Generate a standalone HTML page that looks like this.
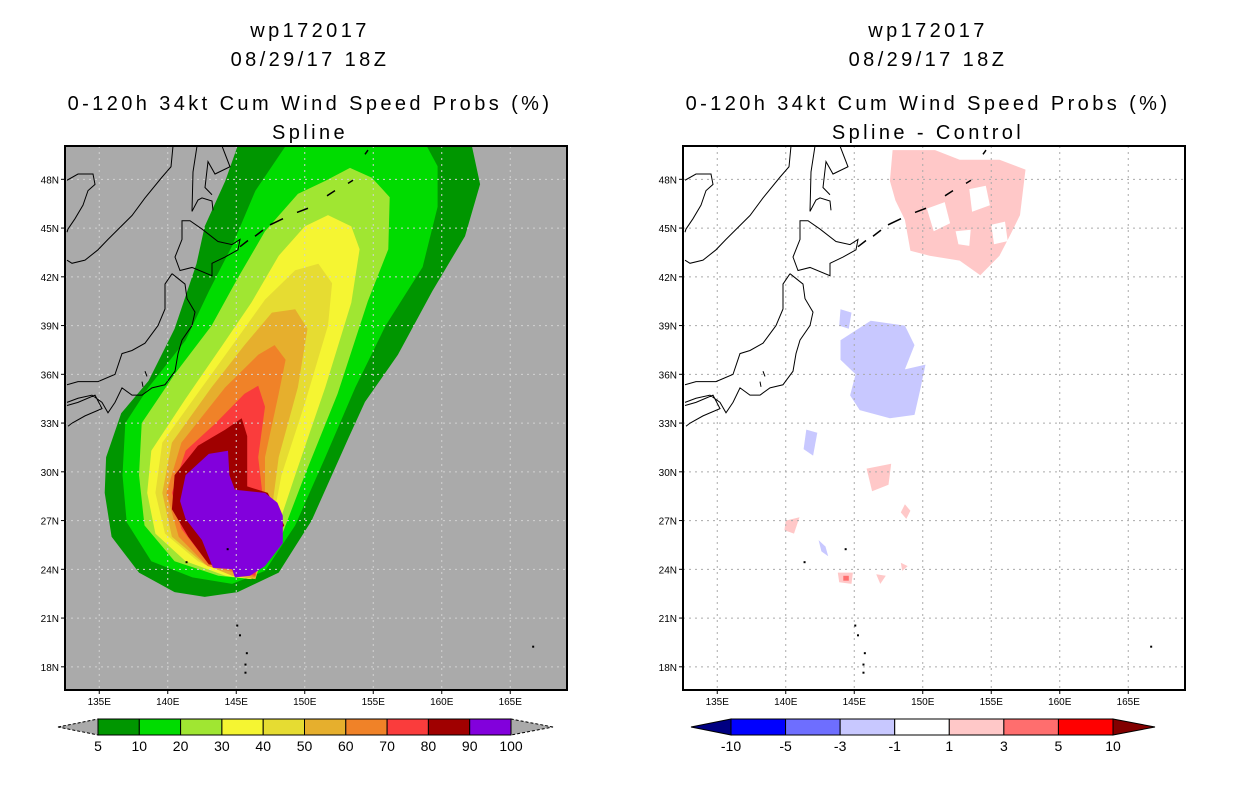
<!DOCTYPE html>
<html><head><meta charset="utf-8">
<style>
html,body{margin:0;padding:0;background:#fff;}
body{width:1236px;height:800px;overflow:hidden;font-family:"Liberation Sans",sans-serif;}
svg text{font-family:"Liberation Sans",sans-serif;}
</style></head>
<body>
<svg id="root" width="1236" height="800" viewBox="0 0 1236 800" xmlns="http://www.w3.org/2000/svg">
<defs>
<clipPath id="clipL"><rect x="65" y="146" width="502" height="544"/></clipPath>
<clipPath id="clipR"><rect x="683" y="146" width="502" height="544"/></clipPath>
</defs>
<g font-size="20" text-anchor="middle" letter-spacing="3.4">
<text x="310" y="37">wp172017</text>
<text x="310" y="66">08/29/17 18Z</text>
<text x="310" y="110">0-120h 34kt Cum Wind Speed Probs (%)</text>
<text x="310" y="139">Spline</text>
</g>
<g font-size="20" text-anchor="middle" letter-spacing="3.4">
<text x="928" y="37">wp172017</text>
<text x="928" y="66">08/29/17 18Z</text>
<text x="928" y="110">0-120h 34kt Cum Wind Speed Probs (%)</text>
<text x="928" y="139">Spline - Control</text>
</g>
<g id="leftMap"></g>
<g id="rightMap"></g>
<g id="leftBar"></g>
<g id="rightBar"></g>
</svg>
<script>
// ---- data ----
const latTicks = [48,45,42,39,36,33,30,27,24,21,18];
const lonTicks = [135,140,145,150,155,160,165];
const probLevels = [5,10,20,30,40,50,60,70,80,90,100];
const probColors = ["#009600","#00dc00","#a0e632","#f5f532","#e6dc32","#e6af2d","#f08228","#fa3c3c","#a00000","#8200dc"];
const diffLabels = ["-10","-5","-3","-1","1","3","5","10"];
const diffColors = ["#0000ff","#6e6eff","#c8c8ff","#ffffff","#ffc8c8","#ff6e6e","#ff0000"];
const c5 = [[145.1,50.05],[144.2,47.9],[142.7,45.1],[142.1,42.8],[140.5,38.8],[138.6,35.6],[136.6,33.6],[135.5,30.9],[135.4,28.7],[135.9,26.0],[137.9,23.8],[140.5,22.6],[142.7,22.3],[145.1,22.6],[148.1,23.8],[150.5,27.0],[153.2,32.1],[154.4,34.3],[156.8,37.2],[159.3,41.1],[161.7,44.5],[162.8,47.7],[162.2,50.05]];
const c10 = [[148.6,50.05],[146.4,47.3],[144.7,43.9],[143.0,41.1],[141.3,38.1],[138.6,35.2],[136.9,33.0],[136.7,29.8],[137.0,26.9],[138.8,24.5],[141.8,23.5],[144.7,23.1],[147.1,23.9],[149.3,26.7],[151.5,30.9],[153.7,35.2],[155.9,39.0],[158.6,42.6],[159.7,46.3],[159.7,48.8],[158.9,50.05]];
const c20 = [[153.3,48.7],[151.5,47.9],[149.5,47.1],[147.1,44.8],[145.1,41.9],[143.2,39.0],[140.5,36.0],[138.1,33.0],[137.9,29.8],[138.3,26.7],[140.5,24.5],[143.7,23.6],[146.1,23.4],[148.1,25.6],[150.0,29.8],[152.4,34.8],[154.6,40.5],[156.1,43.7],[156.2,46.9],[154.9,48.1]];
const c30 = [[151.7,45.8],[150.0,45.1],[148.1,43.3],[146.1,40.4],[144.0,37.8],[141.3,34.5],[138.8,31.3],[138.5,28.7],[139.1,26.2],[141.3,24.5],[144.2,23.6],[146.1,23.4],[147.8,26.0],[149.3,29.8],[151.5,35.2],[153.4,40.4],[154.0,43.7],[153.4,45.1]];
const c40 = [[151.0,42.8],[149.3,42.4],[147.1,40.6],[144.9,38.0],[142.5,35.2],[139.6,31.8],[139.1,28.7],[139.8,26.2],[142.2,24.5],[144.7,23.6],[146.4,23.4],[147.6,26.7],[148.3,29.8],[150.0,34.2],[151.7,39.0],[152.0,41.6]];
const c50 = [[149.3,40.0],[147.6,39.8],[145.6,37.8],[143.2,35.2],[140.3,31.8],[139.6,28.7],[140.3,26.0],[142.7,24.3],[144.7,23.6],[146.4,23.4],[147.6,27.7],[148.1,30.9],[149.5,35.2],[150.2,38.8]];
const c60 = [[147.8,37.8],[146.6,37.2],[144.2,35.2],[141.0,31.8],[139.9,28.7],[140.8,26.0],[142.9,24.2],[146.4,23.5],[147.1,28.1],[147.1,30.9],[148.1,34.8],[148.6,36.9]];
const c70 = [[146.6,35.3],[145.6,34.8],[143.5,33.0],[141.3,31.3],[140.3,28.7],[141.0,26.5],[142.9,24.4],[146.4,23.6],[146.9,28.7],[146.6,30.9],[147.1,34.0]];
const c80 = [[145.4,33.3],[144.2,32.6],[142.2,31.6],[140.5,29.8],[140.3,27.7],[141.5,26.0],[143.0,24.3],[146.0,23.9],[148.5,26.7],[147.3,28.7],[145.8,29.1],[145.8,32.2]];
const c90 = [[144.4,31.3],[143.0,31.1],[141.3,29.8],[140.9,28.2],[141.3,27.1],[142.5,25.8],[143.3,24.1],[144.7,24.0],[144.9,23.5],[146.0,23.6],[147.1,24.2],[148.4,25.6],[148.4,27.3],[148.0,28.1],[147.1,28.7],[144.9,28.9],[144.5,29.8]];
const probContours = [c5,c10,c20,c30,c40,c50,c60,c70,c80,c90];
const diffPink = [[147.8,49.8],[150.9,49.8],[152.7,49.2],[155.6,49.2],[157.5,48.6],[157.1,45.8],[156.4,44.6],[155.6,43.3],[154.2,42.1],[152.7,43.0],[150.5,43.3],[149.1,43.6],[148.7,45.5],[148.0,46.7],[147.6,47.9]];
const diffPinkHoles = [[[150.3,46.2],[151.6,46.6],[152.0,45.3],[150.8,44.8]],[[153.4,47.4],[154.6,47.6],[154.9,46.4],[153.6,46.0]],[[155.0,45.2],[156.0,45.4],[156.2,44.2],[155.2,44.0]],[[152.4,44.8],[153.5,44.9],[153.4,43.9],[152.6,44.0]]];
const diffBlue = [[144.0,38.1],[146.2,39.3],[148.7,39.0],[149.4,37.8],[148.7,36.3],[150.2,36.6],[149.8,35.0],[149.4,33.5],[147.6,33.3],[145.4,33.8],[144.7,34.7],[145.1,36.0],[144.0,36.9]];
const diffSmallBlue = [[[144.0,40.0],[144.8,39.8],[144.6,38.8],[143.9,39.0]],[[141.5,32.6],[142.3,32.4],[142.0,31.0],[141.3,31.4]],[[142.4,25.8],[142.9,25.4],[143.1,24.8],[142.6,25.1]]];
const diffSmallPink = [[[145.9,30.2],[147.7,30.5],[147.5,29.2],[146.3,28.8]],[[140.0,27.0],[141.0,27.2],[140.6,26.2],[139.9,26.4]],[[148.7,28.0],[149.1,27.6],[148.8,27.1],[148.4,27.5]],[[146.6,23.7],[147.3,23.6],[146.9,23.1]],[[148.4,24.4],[148.9,24.2],[148.5,23.9]],[[143.8,23.8],[144.9,23.8],[144.8,23.1],[143.9,23.2]]];
const diffRedSpot = [[144.2,23.6],[144.6,23.6],[144.6,23.3],[144.2,23.3]];

// ---- axes ----
const LON0=132.5, LAT0=50.05, SX=13.7, SY=16.25;
function px(lon,ox){return ox+(lon-LON0)*SX;}
function py(lat){return 146+(LAT0-lat)*SY;}
const NS="http://www.w3.org/2000/svg";
function mk(tag,attrs,parent){const e=document.createElementNS(NS,tag);for(const k in attrs)e.setAttribute(k,attrs[k]);parent.appendChild(e);return e;}
function polyPts(poly,ox){return poly.map(p=>px(p[0],ox).toFixed(1)+","+py(p[1]).toFixed(1)).join(" ");}

const coastD="M108,0 L106,20 L97,30 L80,50 L67,67 L43,90 L33,100 L20,110 L7,113 L2,110 M2,33 L13,27 L28,27 L30,37 L23,43 L18,57 L10,70 L3,80 L2,83 M132,0 L128,25 L127,63 L133,52 L137,50 L147,53 L148,62 M157,0 L165,20 L150,27 L143,15 L140,40 L147,47 M117,72 L125,72 L137,80 L153,92 L167,95 L175,90 L173,100 L160,107 L147,113 L147,125 L127,117 L115,120 L110,107 L117,90 Z M107,123 L120,133 L122,147 L130,160 L127,173 L117,187 L113,200 L110,217 L100,230 L87,233 L77,240 L67,240 L57,233 L50,247 L43,257 L37,247 L27,240 L13,243 L2,247 M107,123 L100,133 L100,157 L93,173 L80,190 L67,197 L57,200 L50,220 L33,227 L13,227 L2,230 M2,250 L13,247 L30,240 L37,253 L20,260 L7,267 L3,270 M80,217 L82,222 M77,227 L78,232";
const kurilD="M175,97 L183,91 M190,87 L198,81 M205,76 L218,70 M232,64 L243,60 M262,48 L270,43 M283,36 L288,33 M300,8 L303,4";
const islands=[[144.3,25.3],[141.3,24.5],[145.0,20.6],[145.2,20.0],[145.7,18.9],[145.6,18.2],[145.6,17.7],[166.6,19.3]];

function drawMap(g,ox,clip,bg,gridCol,isLeft){
  const bgr=mk("rect",{x:ox,y:146,width:502,height:544,fill:bg},g);
  
  
  const cg=mk("g",{"clip-path":"url(#"+clip+")"},g);
  
  
  if(isLeft){
    probContours.forEach((poly,i)=>{
      const p=mk("polygon",{points:polyPts(poly,ox),fill:probColors[i]},cg);
      
      
    });
  } else {
    const pk=mk("polygon",{points:polyPts(diffPink,ox),fill:diffColors[4]},cg);
    
    
    diffPinkHoles.forEach(h=>{const e=mk("polygon",{points:polyPts(h,ox),fill:"#fff"},cg);
      
      });
    const bl=mk("polygon",{points:polyPts(diffBlue,ox),fill:diffColors[2]},cg);
    
    
    diffSmallBlue.forEach(h=>{const e=mk("polygon",{points:polyPts(h,ox),fill:diffColors[2]},cg);
      
      });
    diffSmallPink.forEach(h=>{const e=mk("polygon",{points:polyPts(h,ox),fill:diffColors[4]},cg);
      
      });
    const rs=mk("polygon",{points:polyPts(diffRedSpot,ox),fill:diffColors[5]},cg);
    
    
  }
  latTicks.forEach(l=>{const e=mk("line",{x1:ox,x2:ox+502,y1:py(l),y2:py(l),stroke:gridCol,"stroke-width":1,"stroke-dasharray":"2,4"},cg);
    
    });
  lonTicks.forEach(l=>{const e=mk("line",{x1:px(l,ox),x2:px(l,ox),y1:146,y2:690,stroke:gridCol,"stroke-width":1,"stroke-dasharray":"2,4"},cg);
    
    });
  const co=mk("path",{d:coastD,transform:"translate("+ox+",146) scale(1,1.038)",fill:"none",stroke:"#000","stroke-width":1},cg);
  
  
  const ku=mk("path",{d:kurilD,transform:"translate("+ox+",146) scale(1,1.038)",fill:"none",stroke:"#000","stroke-width":1.5},cg);
  
  
  islands.forEach(p=>{const e=mk("rect",{x:px(p[0],ox),y:py(p[1]),width:2,height:2,fill:"#000"},cg);
    
    });
  const fr=mk("rect",{x:ox,y:146,width:502,height:544,fill:"none",stroke:"#000","stroke-width":2},g);
  
  
  latTicks.forEach(l=>{
    const t=mk("line",{x1:ox-4,x2:ox,y1:py(l),y2:py(l),stroke:"#000"},g);
    
    
    const tx=mk("text",{x:ox-6,y:py(l)+4,"font-size":10,"text-anchor":"end"},g);
    tx.textContent=l+"N";
    
    
  });
  lonTicks.forEach(l=>{
    const t=mk("line",{x1:px(l,ox),x2:px(l,ox),y1:690,y2:694,stroke:"#000"},g);
    
    
    const tx=mk("text",{x:px(l,ox),y:705,"font-size":10,"text-anchor":"middle"},g);
    tx.textContent=l+"E";
    
    
  });
}
drawMap(document.getElementById("leftMap"),65,"clipL","#aaaaaa","#d2d2d2",true);
drawMap(document.getElementById("rightMap"),683,"clipR","#ffffff","#aaaaaa",false);

function drawBar(g,x0,x1,colors,labels,leftTri,rightTri,dashTri){
  const n=colors.length, w=(x1-x0)/n, y=719, h=16;
  const lt=mk("polygon",{points:(x0-40)+","+(y+h/2)+" "+x0+","+y+" "+x0+","+(y+h),fill:leftTri,stroke:"#000","stroke-dasharray":dashTri?"3,2":"none"},g);
  
  
  const rt=mk("polygon",{points:(x1+42)+","+(y+h/2)+" "+x1+","+y+" "+x1+","+(y+h),fill:rightTri,stroke:"#000","stroke-dasharray":dashTri?"3,2":"none"},g);
  
  
  colors.forEach((c,i)=>{const r=mk("rect",{x:x0+i*w,y:y,width:w,height:h,fill:c,stroke:"#000","stroke-width":1},g);
    
    });
  labels.forEach((l,i)=>{const t=mk("text",{x:x0+i*w,y:751,"font-size":14,"text-anchor":"middle"},g);
    t.textContent=l;
    
    });
}
drawBar(document.getElementById("leftBar"),98,511,probColors,probLevels.map(String),"#aaaaaa","#aaaaaa",true);
drawBar(document.getElementById("rightBar"),731,1113,diffColors,diffLabels,"#000082","#820000",false);
</script>
</body></html>
